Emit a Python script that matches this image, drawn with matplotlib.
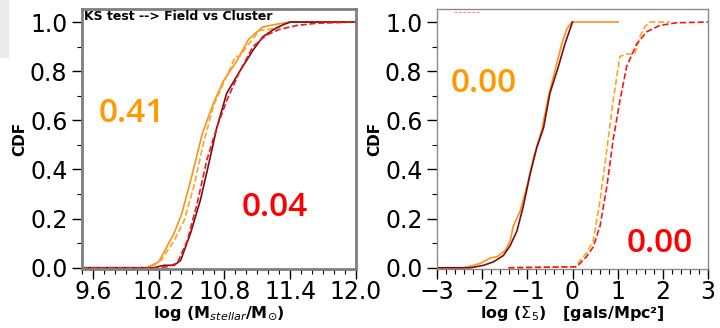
import numpy as np
import matplotlib
matplotlib.use('Agg')
import matplotlib.pyplot as plt
from matplotlib.ticker import MultipleLocator
from matplotlib.patches import Rectangle

# ---- stellar mass CDFs (left panel)
mass_field_x = [9.5, 10.09, 10.2, 10.34, 10.41, 10.5, 10.6, 10.7, 10.79, 10.91, 11.02, 11.15, 11.26, 11.4, 12.0]
mass_field_y = [0.0, 0.0, 0.024, 0.14, 0.22, 0.37, 0.55, 0.67, 0.76, 0.84, 0.93, 0.98, 0.99, 1.0, 1.0]
mass_field_d_x = [9.5, 10.12, 10.22, 10.34, 10.43, 10.52, 10.61, 10.7, 10.79, 10.9, 10.94, 11.02, 11.12, 11.25, 11.37, 11.43, 12.0]
mass_field_d_y = [0.0, 0.0, 0.03, 0.11, 0.19, 0.33, 0.51, 0.66, 0.75, 0.86, 0.86, 0.91, 0.966, 0.973, 0.996, 1.0, 1.0]
mass_clus_x = [9.5, 10.15, 10.25, 10.34, 10.4, 10.49, 10.58, 10.65, 10.73, 10.82, 10.94, 11.06, 11.15, 11.25, 11.34, 11.4, 12.0]
mass_clus_y = [0.0, 0.0, 0.01, 0.01, 0.03, 0.14, 0.275, 0.41, 0.57, 0.71, 0.80, 0.885, 0.94, 0.97, 0.99, 1.0, 1.0]
mass_clus_d_x = [9.5, 10.18, 10.28, 10.37, 10.46, 10.55, 10.64, 10.73, 10.82, 10.94, 11.06, 11.18, 11.3, 11.46, 11.64, 12.0]
mass_clus_d_y = [0.0, 0.0, 0.004, 0.02, 0.11, 0.26, 0.44, 0.57, 0.68, 0.80, 0.90, 0.946, 0.97, 0.986, 0.995, 1.0]

# ---- local density CDFs (right panel)
dens_field_x = [-2.96, -2.41, -2.19, -2.04, -1.82, -1.67, -1.49, -1.38, -1.31, -1.16, -1.01, -0.86, -0.68, -0.53, -0.35, -0.24, -0.13, -0.02, 1.01]
dens_field_y = [0.0, 0.0, 0.01, 0.018, 0.04, 0.045, 0.07, 0.11, 0.17, 0.23, 0.33, 0.45, 0.56, 0.70, 0.83, 0.91, 0.97, 1.0, 1.0]
dens_clus_x = [-2.96, -2.26, -1.97, -1.75, -1.53, -1.38, -1.23, -1.09, -0.94, -0.79, -0.64, -0.5, -0.31, -0.17, 0.0]
dens_clus_y = [0.0, 0.0, 0.01, 0.024, 0.05, 0.09, 0.15, 0.25, 0.38, 0.49, 0.57, 0.71, 0.82, 0.91, 1.0]
dens_field_d_x = [-1.42, 0.06, 0.17, 0.31, 0.46, 0.61, 0.76, 0.9, 1.05, 1.2, 1.38, 1.49, 1.6, 1.71, 2.15]
dens_field_d_y = [0.0, 0.004, 0.03, 0.06, 0.11, 0.275, 0.48, 0.68, 0.86, 0.87, 0.87, 0.94, 0.98, 1.0, 1.0]
dens_clus_d_x = [-1.42, 0.09, 0.31, 0.46, 0.61, 0.76, 0.9, 1.05, 1.2, 1.42, 1.64, 1.93, 2.3, 3.0]
dens_clus_d_y = [0.0, 0.004, 0.045, 0.085, 0.17, 0.33, 0.52, 0.68, 0.82, 0.91, 0.96, 0.986, 0.997, 1.0]

ks_mass = ['0.41', '0.04']
ks_dens = ['0.00', '0.00']

c_orange = '#f7931e'
c_orange_d = '#ffa51f'
c_dark = '#7a0c14'
c_red = '#f01a1a'

fig = plt.figure(figsize=(7.2, 3.28), dpi=100)
fig.patches.append(Rectangle((0, 1 - 57 / 328), 8 / 720, 57 / 328, transform=fig.transFigure,
                             color='#e9ecee', zorder=0))

ax1 = fig.add_axes([82 / 720, 59 / 328, 274 / 720, 260 / 328])
ax2 = fig.add_axes([437 / 720, 59 / 328, 271 / 720, 260 / 328])

ax1.plot(mass_field_x, mass_field_y, '-', color=c_orange, lw=1.2)
ax1.plot(mass_field_d_x, mass_field_d_y, '--', color=c_orange_d, lw=1.2)
ax1.plot(mass_clus_x, mass_clus_y, '-', color=c_dark, lw=1.2)
ax1.plot(mass_clus_d_x, mass_clus_d_y, '--', color=c_red, lw=1.2)

ax2.plot(dens_field_x, dens_field_y, '-', color=c_orange, lw=1.2)
ax2.plot(dens_clus_x, dens_clus_y, '-', color=c_dark, lw=1.2)
ax2.plot(dens_field_d_x, dens_field_d_y, '--', color=c_orange_d, lw=1.2)
ax2.plot(dens_clus_d_x, dens_clus_d_y, '--', color=c_red, lw=1.2)
# leftover legend fragment
ax2.plot([-2.62, -2.05], [1.04, 1.04], '--', color=c_red, lw=0.6, alpha=0.6)

ax1.set_xlim(9.5, 12.0)
ax2.set_xlim(-3, 3)
for ax in (ax1, ax2):
    ax.set_ylim(-0.005, 1.053)
    ax.yaxis.set_major_locator(MultipleLocator(0.2))
    ax.yaxis.set_minor_locator(MultipleLocator(0.1))
    ax.tick_params(which='major', direction='out', length=7, width=1, labelsize=17)
    ax.tick_params(axis='x', which='major', pad=1)
    ax.tick_params(which='minor', direction='out', length=3.5, width=0.8)
    ax.set_ylabel('CDF', fontsize=11, fontweight='bold', labelpad=2)

ax1.xaxis.set_minor_locator(MultipleLocator(0.1))
ax1.set_xticks([9.6, 10.2, 10.8, 11.4, 12.0])
ax1.set_xticklabels(['9.6', '10.2', '10.8', '11.4', '12.0'])
ax2.xaxis.set_major_locator(MultipleLocator(1))
ax2.xaxis.set_minor_locator(MultipleLocator(0.2))

ax1.set_xlabel(r'log (M$_{\mathit{stellar}}$/M$_{\odot}$)', fontsize=11.5, fontweight='bold', labelpad=0)
ax2.set_xlabel(r'log ($\Sigma_5$)   [gals/Mpc²]', fontsize=11.5, fontweight='bold', labelpad=0)

for sp in ax1.spines.values():
    sp.set_color('#7f7f7f')
    sp.set_linewidth(2)
for sp in ax2.spines.values():
    sp.set_color('#8a8a8a')
    sp.set_linewidth(1)

ax1.text(0.008, 0.998, 'KS test --> Field vs Cluster', transform=ax1.transAxes,
         fontsize=9, fontweight='bold', va='top', ha='left')

num_font = dict(family='Open Sans', fontweight='semibold', fontsize=24)
fig.text(99 / 720, 1 - 113 / 328, ks_mass[0], color='#ff9900', va='center', ha='left', **num_font)
fig.text(242 / 720, 1 - 208 / 328, ks_mass[1], color='#ff0000', va='center', ha='left', **num_font)
fig.text(451 / 720, 1 - 83 / 328, ks_dens[0], color='#ff9900', va='center', ha='left', **num_font)
fig.text(627 / 720, 1 - 243 / 328, ks_dens[1], color='#ff0000', va='center', ha='left', **num_font)

fig.savefig('out.png', dpi=100)
